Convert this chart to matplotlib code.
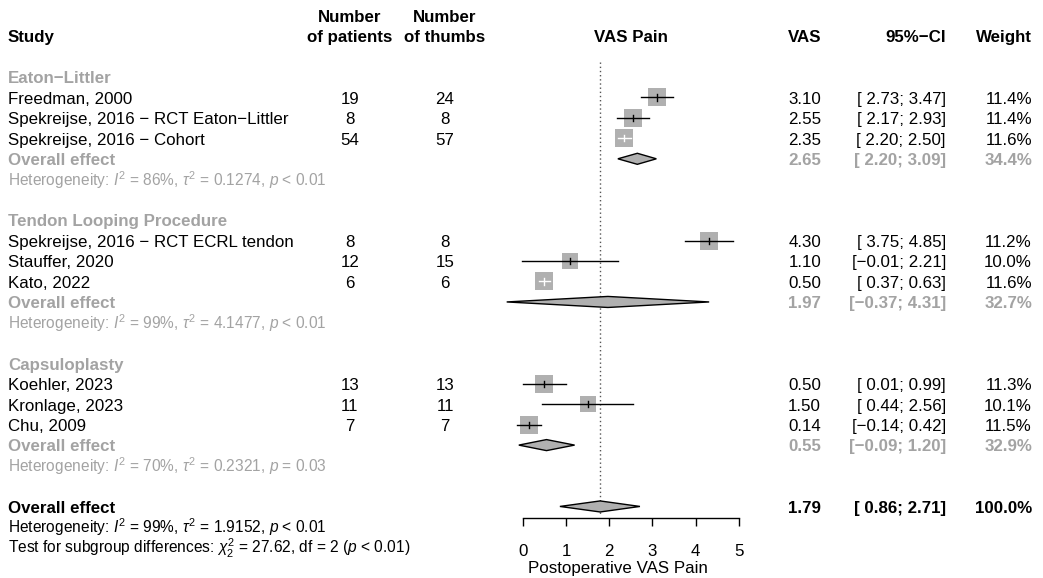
import matplotlib
matplotlib.use("Agg")
import matplotlib.pyplot as plt
from matplotlib.patches import Polygon
from matplotlib.transforms import blended_transform_factory

# ---------------- data ----------------
groups = ["Eaton\u2212Littler", "Tendon Looping Procedure", "Capsuloplasty"]
studies = ["Freedman, 2000", "Spekreijse, 2016 \u2212 RCT Eaton\u2212Littler", "Spekreijse, 2016 \u2212 Cohort",
           "Spekreijse, 2016 \u2212 RCT ECRL tendon", "Stauffer, 2020", "Kato, 2022",
           "Koehler, 2023", "Kronlage, 2023", "Chu, 2009"]
study_group = [0, 0, 0, 1, 1, 1, 2, 2, 2]
patients = [19, 8, 54, 8, 12, 6, 13, 11, 7]
thumbs = [24, 8, 57, 8, 15, 6, 13, 11, 7]
est = [3.10, 2.55, 2.35, 4.30, 1.10, 0.50, 0.50, 1.50, 0.14]
lower = [2.73, 2.17, 2.20, 3.75, -0.01, 0.37, 0.01, 0.44, -0.14]
upper = [3.47, 2.93, 2.50, 4.85, 2.21, 0.63, 0.99, 2.56, 0.42]
weight = [11.4, 11.4, 11.6, 11.2, 10.0, 11.6, 11.3, 10.1, 11.5]

sub_est = [2.65, 1.97, 0.55]
sub_lower = [2.20, -0.37, -0.09]
sub_upper = [3.09, 4.31, 1.20]
sub_weight = [34.4, 32.7, 32.9]
sub_I2 = ["86%", "99%", "70%"]
sub_tau2 = ["0.1274", "4.1477", "0.2321"]
sub_p = ["< 0.01", "< 0.01", "= 0.03"]

overall_est, overall_lower, overall_upper, overall_weight = 1.79, 0.86, 2.71, 100.0
overall_I2, overall_tau2, overall_p = "99%", "1.9152", "< 0.01"
test_chi2, test_df, test_p = "27.62", "2", "< 0.01"

x_ticks = [0, 1, 2, 3, 4, 5]

# ---------------- style ----------------
plt.rcParams['font.family'] = ['Liberation Sans', 'DejaVu Sans']
plt.rcParams['mathtext.fontset'] = 'custom'
plt.rcParams['mathtext.rm'] = 'Liberation Sans'
plt.rcParams['mathtext.it'] = 'Liberation Sans:italic'
plt.rcParams['mathtext.bf'] = 'Liberation Sans:bold'

W, H = 1043, 578
FS = 12.2
FS_SMALL = 11.2
GRAY = '#a3a3a3'
SQ = '#b0b0b0'
ROW_PX = 20.45
ROW0_PX = 77.0
BASE = 0.31  # baseline offset (rows)

fig = plt.figure(figsize=(W / 100, H / 100), dpi=100)
x0_px, x1_px = 522.7, 739.0
ax = fig.add_axes([x0_px / W, 0, (x1_px - x0_px) / W, 1])
ax.set_xlim(0, 5)
ax.set_ylim((H - ROW0_PX) / ROW_PX, -ROW0_PX / ROW_PX)
ax.patch.set_alpha(0)
for s in ['top', 'right', 'left']:
    ax.spines[s].set_visible(False)
axis_row = (518 - ROW0_PX) / ROW_PX
ax.spines['bottom'].set_position(('data', axis_row))
ax.spines['bottom'].set_bounds(0, 5)
ax.spines['bottom'].set_linewidth(1.0)
ax.set_xticks(x_ticks)
ax.set_xticklabels([str(t) for t in x_ticks])
ax.tick_params(axis='x', direction='out', length=6, width=1.0, pad=12.5, labelsize=FS)
ax.set_yticks([])
ax.set_xlabel("Postoperative VAS Pain", fontsize=FS)
tr_lbl = blended_transform_factory(ax.transAxes, ax.transData)
ax.xaxis.set_label_coords(0.44, (573.3 - ROW0_PX) / ROW_PX, transform=tr_lbl)
ax.xaxis.label.set_va('baseline')

tr = blended_transform_factory(fig.transFigure, ax.transData)

def txt(xpx, row, s, ha='left', color='black', bold=False, size=FS):
    ax.text(xpx / W, row + BASE, s, transform=tr, ha=ha, va='baseline', color=color,
            fontsize=size, fontweight='bold' if bold else 'normal', clip_on=False)

X_STUDY, X_PAT, X_THU, X_VAS, X_CI, X_W = 8, 350, 445, 821, 946, 1032
X_PLOTC = 631

# headers
txt(X_STUDY, -2, "Study", bold=True)
txt(X_PAT, -3, "Number", ha='center', bold=True)
txt(X_PAT, -2, "of patients", ha='center', bold=True)
txt(X_THU, -3, "Number", ha='center', bold=True)
txt(X_THU, -2, "of thumbs", ha='center', bold=True)
txt(X_PLOTC, -2, "VAS Pain", ha='center', bold=True)
txt(X_VAS, -2, "VAS", ha='right', bold=True)
txt(X_CI, -2, "95%\u2212CI", ha='right', bold=True)
txt(X_W, -2, "Weight", ha='right', bold=True)

def fmt(v):
    return f"{v:.2f}".replace('-', '\u2212')

def fmt_ci(lo, hi):
    a = fmt(lo)
    if lo >= 0:
        a = ' ' + a
    return f"[{a}; {fmt(hi)}]"

def diamond(center, lo, hi, row, h=0.27):
    poly = Polygon([(lo, row), (center, row - h), (hi, row), (center, row + h)],
                   closed=True, facecolor=SQ, edgecolor='black', linewidth=1.0, zorder=3,
                   clip_on=False)
    ax.add_patch(poly)

px_per_unit = (x1_px - x0_px) / 5.0

ax.plot([overall_est, overall_est], [-0.73, axis_row - 0.2], linestyle=(0, (1, 2)),
        color='#555555', linewidth=1.0, zorder=1)

for g in range(3):
    base = 7 * g
    txt(X_STUDY, base, groups[g], color=GRAY, bold=True)
    idx = [i for i in range(len(studies)) if study_group[i] == g]
    for k, i in enumerate(idx):
        r = base + 1 + k
        txt(X_STUDY, r, studies[i])
        txt(X_PAT, r, str(patients[i]), ha='center')
        txt(X_THU, r, str(thumbs[i]), ha='center')
        txt(X_VAS, r, fmt(est[i]), ha='right')
        txt(X_CI, r, fmt_ci(lower[i], upper[i]), ha='right')
        txt(X_W, r, f"{weight[i]:.1f}%", ha='right')
        side_px = 5.12 * weight[i] ** 0.5
        ax.scatter([est[i]], [r], marker='s', s=(side_px * 0.72) ** 2, color=SQ,
                   linewidths=0, zorder=2, clip_on=False)
        inside = (upper[i] - lower[i]) * px_per_unit < side_px
        lc = 'white' if inside else 'black'
        ax.plot([lower[i], upper[i]], [r, r], color=lc, linewidth=1.0, zorder=3, clip_on=False)
        ax.plot([est[i], est[i]], [r - 0.15, r + 0.15], color=lc, linewidth=1.0, zorder=3,
                clip_on=False)
    r = base + 4
    txt(X_STUDY, r, "Overall effect", color=GRAY, bold=True)
    txt(X_VAS, r, fmt(sub_est[g]), ha='right', color=GRAY, bold=True)
    txt(X_CI, r, fmt_ci(sub_lower[g], sub_upper[g]), ha='right', color=GRAY, bold=True)
    txt(X_W, r, f"{sub_weight[g]:.1f}%", ha='right', color=GRAY, bold=True)
    diamond(sub_est[g], sub_lower[g], sub_upper[g], r)
    txt(X_STUDY, base + 5,
        r"Heterogeneity: $I^2$ = " + sub_I2[g] + r", $\tau^2$ = " + sub_tau2[g] + ", $p$ " + sub_p[g],
        color=GRAY, size=FS_SMALL)

txt(X_STUDY, 21, "Overall effect", bold=True)
txt(X_VAS, 21, fmt(overall_est), ha='right', bold=True)
txt(X_CI, 21, fmt_ci(overall_lower, overall_upper), ha='right', bold=True)
txt(X_W, 21, f"{overall_weight:.1f}%", ha='right', bold=True)
diamond(overall_est, overall_lower, overall_upper, 21)
txt(X_STUDY, 22, r"Heterogeneity: $I^2$ = " + overall_I2 + r", $\tau^2$ = " + overall_tau2 + ", $p$ " + overall_p,
    size=FS_SMALL)
txt(X_STUDY, 23, r"Test for subgroup differences: $\chi^2_2$ = " + test_chi2 + ", df = " + test_df
    + " ($p$ " + test_p + ")", size=FS_SMALL)

fig.savefig("out.png", dpi=100)
